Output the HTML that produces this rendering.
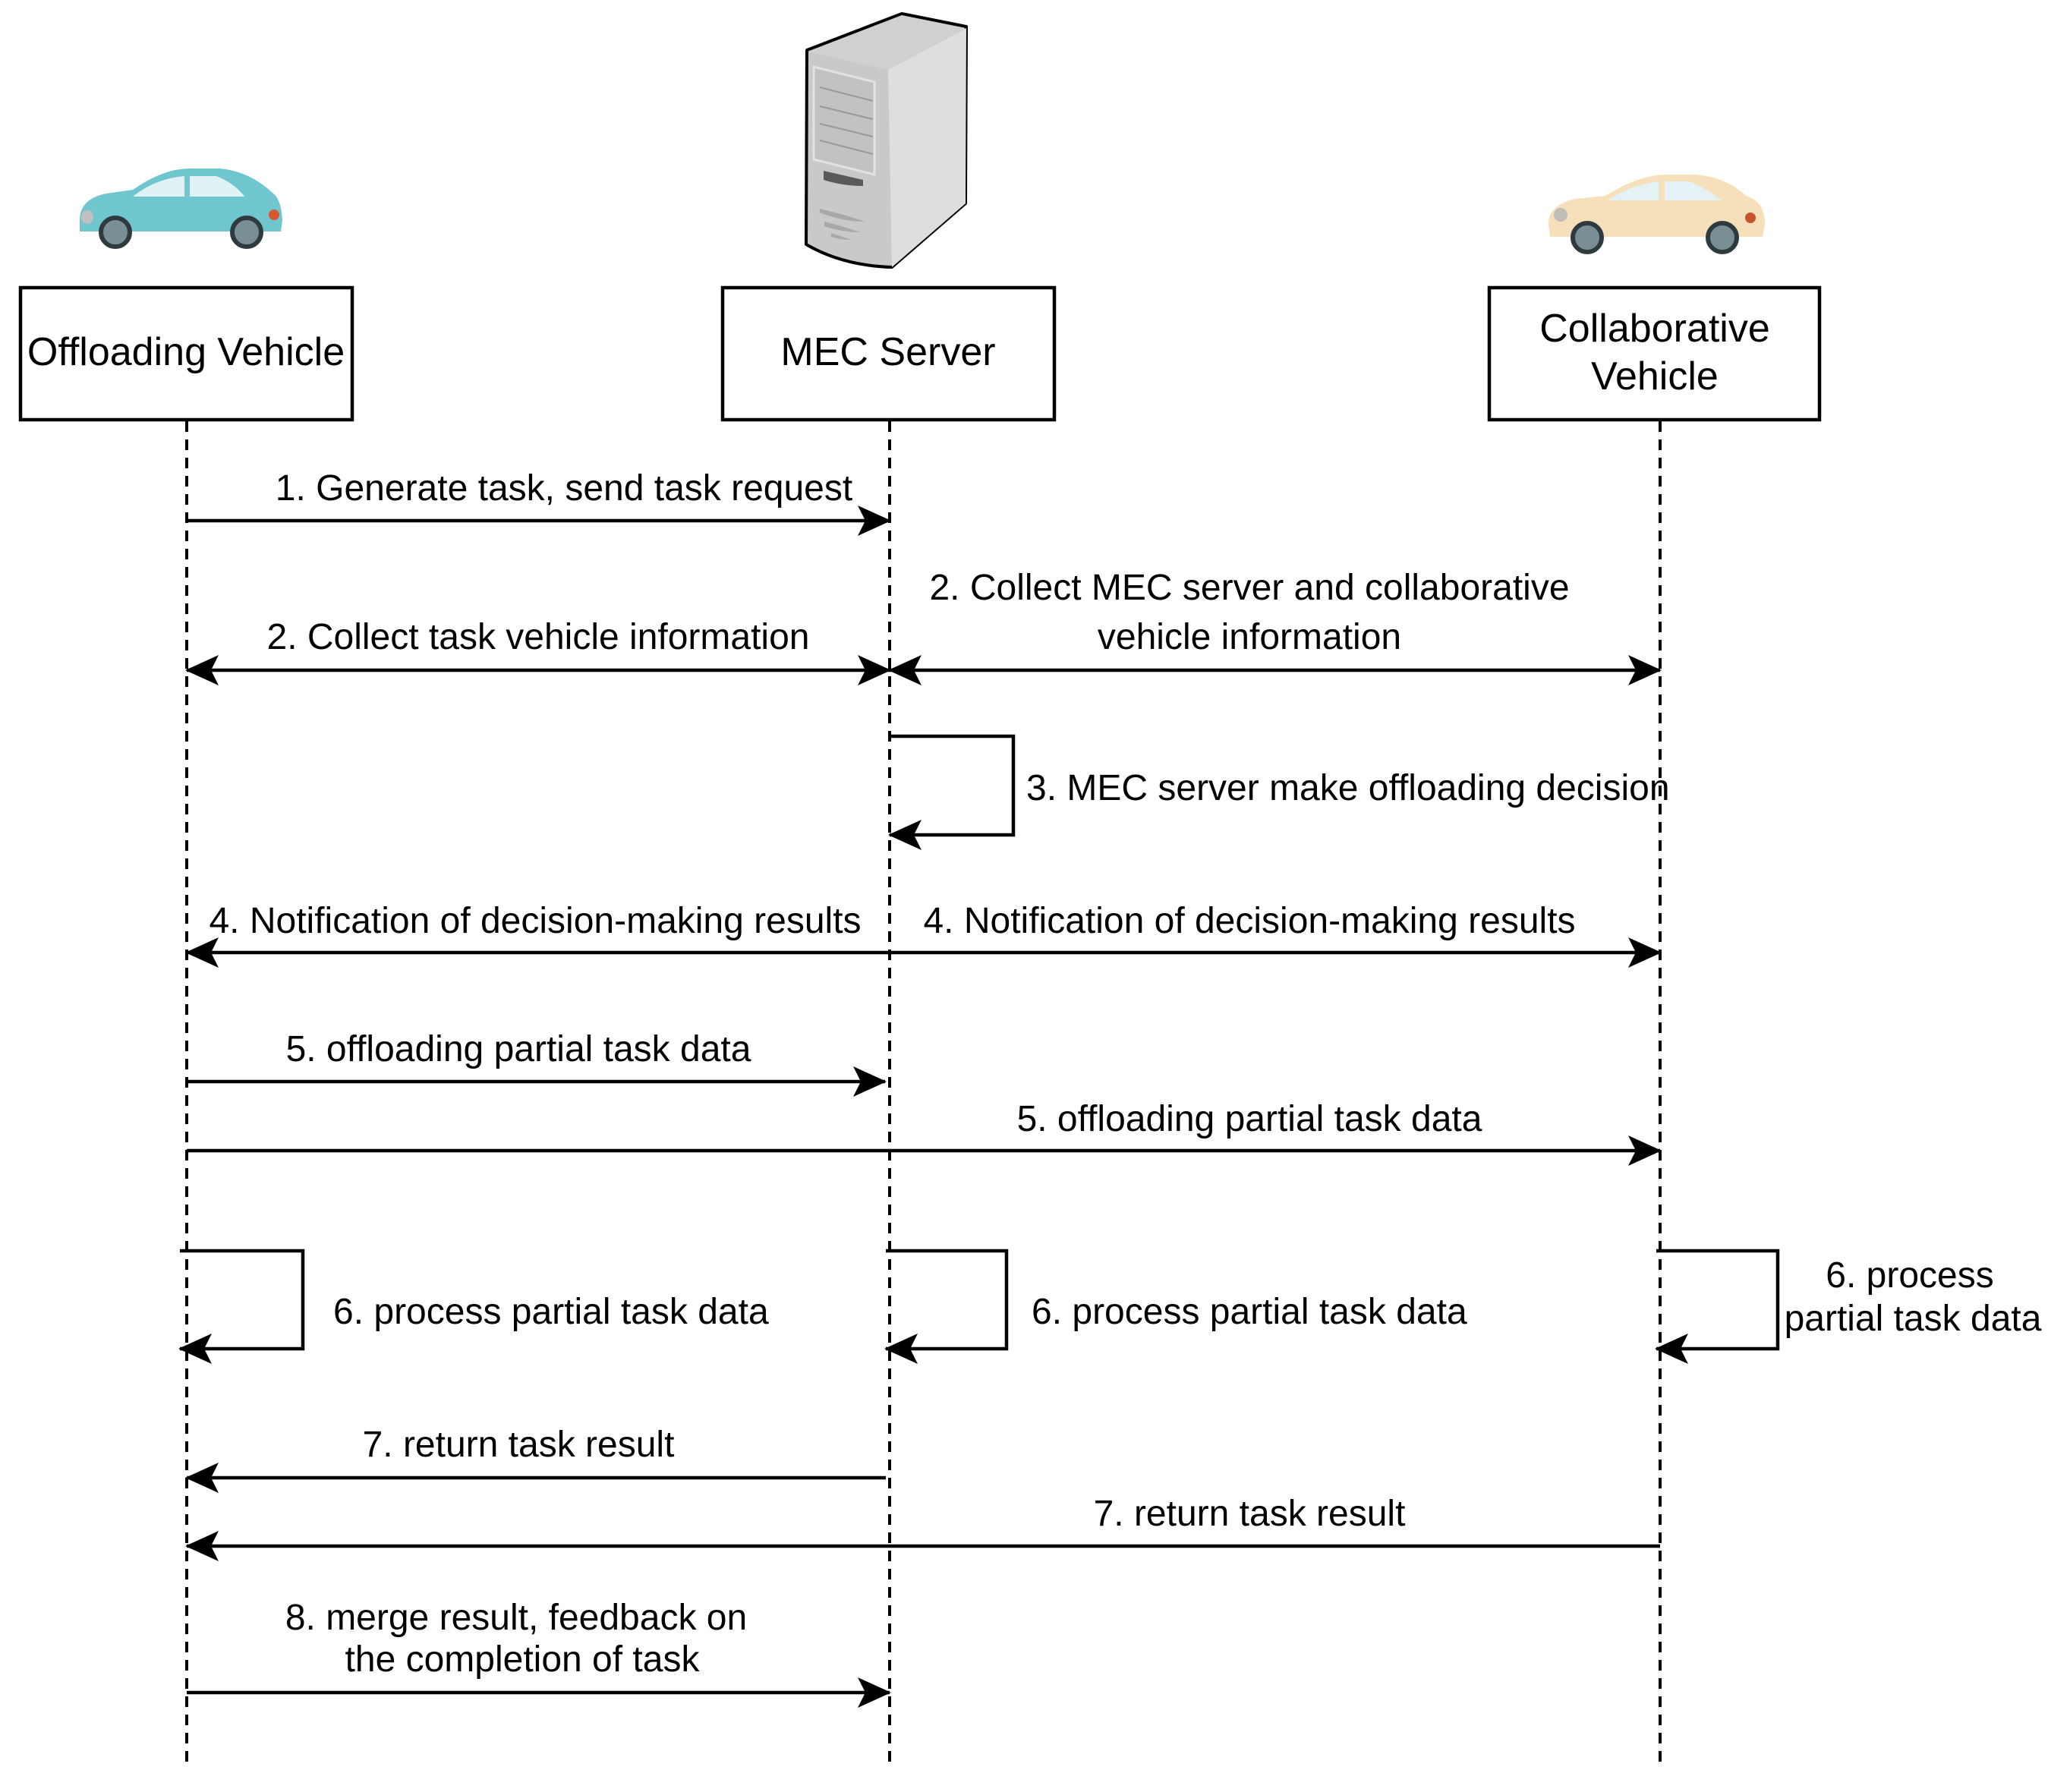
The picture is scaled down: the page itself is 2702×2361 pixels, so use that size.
<!DOCTYPE html>
<html><head><meta charset="utf-8"><style>html,body{margin:0;padding:0;background:#fff}svg{display:block}</style></head>
<body>
<svg width="2702" height="2361" viewBox="0 0 2702 2361" xmlns="http://www.w3.org/2000/svg" font-family="Liberation Sans, Arial, sans-serif">
<defs>
<marker id="ah" viewBox="0 0 44 40" refX="42" refY="20" markerWidth="44" markerHeight="40" markerUnits="userSpaceOnUse" orient="auto-start-reverse">
<path d="M0,0 L44,20 L0,40 L10,20 Z" fill="#000"/>
</marker>
</defs>
<rect width="2702" height="2361" fill="#fff"/>

<g>
<path d="M105,290 Q105,262 140,255 L175,250 Q215,222 250,222 L290,222 Q330,226 360,255 Q370,262 372,290 L370,305 L105,305 Z" fill="#6fc6ce"/>
<path d="M175,259 Q205,235 243,232 L243,259 Z M250,232 L285,232 Q310,242 322,259 L250,259 Z" fill="#dff2f6"/>
<circle cx="152" cy="306" r="19" fill="#7a8e96" stroke="#2e3a3e" stroke-width="6"/>
<circle cx="325" cy="306" r="19" fill="#7a8e96" stroke="#2e3a3e" stroke-width="6"/>
<circle cx="361" cy="283" r="7" fill="#d9572f"/>
<ellipse cx="115" cy="286" rx="8" ry="9" fill="#c0c0c0"/>
</g>
<g>
<path d="M2040,295 Q2040,270 2075,262 L2115,258 Q2160,230 2195,230 L2235,230 Q2275,234 2300,258 Q2325,265 2325,295 L2322,312 L2042,312 Z" fill="#f6e0bc"/>
<path d="M2118,264 Q2150,243 2185,239 L2185,264 Z M2193,239 L2225,239 Q2248,248 2268,264 L2193,264 Z" fill="#e4f2f6"/>
<circle cx="2091" cy="313" r="19" fill="#7a8e96" stroke="#2e3a3e" stroke-width="6"/>
<circle cx="2269" cy="313" r="19" fill="#7a8e96" stroke="#2e3a3e" stroke-width="6"/>
<circle cx="2306" cy="287" r="7" fill="#c8542c"/>
<ellipse cx="2056" cy="283" rx="9" ry="9" fill="#c0bcb8"/>
</g>
<g stroke-linejoin="round">
<path d="M1063,66 L1188,18 L1273,35 L1272,268 L1175,352 Q1110,350 1062,322 Z" fill="#c9c9c9" stroke="#000" stroke-width="4"/>
<path d="M1170,92 L1273,37 L1272,268 L1175,352 Z" fill="#dedede"/>
<path d="M1065,68 L1188,20 L1271,37 L1170,92 Z" fill="#d0d0d0"/>
<path d="M1072,88 L1152,108 L1152,230 L1072,210 Z" fill="#c2c2c2" stroke="#e2e2e2" stroke-width="3"/>
<g stroke="#999" stroke-width="2"><line x1="1080" y1="115" x2="1150" y2="133"/><line x1="1080" y1="140" x2="1150" y2="157"/><line x1="1080" y1="163" x2="1150" y2="180"/><line x1="1080" y1="185" x2="1150" y2="203"/></g>
<path d="M1085,225 L1137,237 L1137,245 Q1110,245 1085,237 Z" fill="#5a5a5a"/>
<g fill="#a8a8a8"><path d="M1080,275 Q1110,282 1140,292 Q1110,292 1080,280Z"/><path d="M1086,292 Q1110,298 1133,306 Q1110,306 1086,298Z"/><path d="M1095,307 Q1110,312 1122,316 Q1108,316 1095,312Z"/></g>
</g>

<g fill="#fff" stroke="#000" stroke-width="4.5">
<rect x="27" y="379" width="437" height="174"/>
<rect x="952" y="379" width="437" height="174"/>
<rect x="1962" y="379" width="435" height="174"/>
</g>
<g font-size="52" text-anchor="middle" fill="#000">
<text x="245" y="481">Offloading Vehicle</text>
<text x="1170" y="481">MEC Server</text>
<text x="2180" y="450">Collaborative</text>
<text x="2180" y="513">Vehicle</text>
</g>

<g stroke="#000" stroke-width="4" stroke-dasharray="14,10">
<line x1="246" y1="555" x2="246" y2="2326"/>
<line x1="1172" y1="555" x2="1172" y2="2326"/>
<line x1="2187" y1="555" x2="2187" y2="2326"/>
</g>

<g stroke="#000" stroke-width="4.5" fill="none">
<line x1="246" y1="686" x2="1172" y2="686" marker-end="url(#ah)"/>
<line x1="246" y1="883" x2="1172" y2="883" marker-start="url(#ah)" marker-end="url(#ah)"/>
<line x1="1172" y1="883" x2="2187" y2="883" marker-start="url(#ah)" marker-end="url(#ah)"/>
<polyline points="1172,970 1335,970 1335,1100 1172,1100" marker-end="url(#ah)"/>
<line x1="1172" y1="1255" x2="246" y2="1255" marker-end="url(#ah)"/>
<line x1="1172" y1="1255" x2="2187" y2="1255" marker-end="url(#ah)"/>
<line x1="246" y1="1425" x2="1166" y2="1425" marker-end="url(#ah)"/>
<line x1="246" y1="1516" x2="2187" y2="1516" marker-end="url(#ah)"/>
<polyline points="237,1648 399,1648 399,1777 237,1777" marker-end="url(#ah)"/>
<polyline points="1167,1648 1326,1648 1326,1777 1167,1777" marker-end="url(#ah)"/>
<polyline points="2182,1648 2342,1648 2342,1777 2182,1777" marker-end="url(#ah)"/>
<line x1="1167" y1="1947" x2="246" y2="1947" marker-end="url(#ah)"/>
<line x1="2187" y1="2037" x2="246" y2="2037" marker-end="url(#ah)"/>
<line x1="246" y1="2230" x2="1172" y2="2230" marker-end="url(#ah)"/>
</g>

<g font-size="48" fill="#000" text-anchor="middle">
<text x="743" y="659">1. Generate task, send task request</text>
<text x="709" y="855">2. Collect task vehicle information</text>
<text x="1646" y="790">2. Collect MEC server and collaborative</text>
<text x="1646" y="855">vehicle information</text>
<text x="1352" y="1054" text-anchor="start">3. MEC server make offloading decision</text>
<text x="705" y="1229">4. Notification of decision-making results</text>
<text x="1646" y="1229">4. Notification of decision-making results</text>
<text x="683" y="1398">5. offloading partial task data</text>
<text x="1646" y="1490">5. offloading partial task data</text>
<text x="439" y="1744" text-anchor="start">6. process partial task data</text>
<text x="1359" y="1744" text-anchor="start">6. process partial task data</text>
<text x="2516" y="1696">6. process</text>
<text x="2520" y="1753">partial task data</text>
<text x="683" y="1919">7. return task result</text>
<text x="1646" y="2010">7. return task result</text>
<text x="680" y="2147">8. merge result, feedback on</text>
<text x="688" y="2202">the completion of task</text>
</g>
</svg>
</body></html>
